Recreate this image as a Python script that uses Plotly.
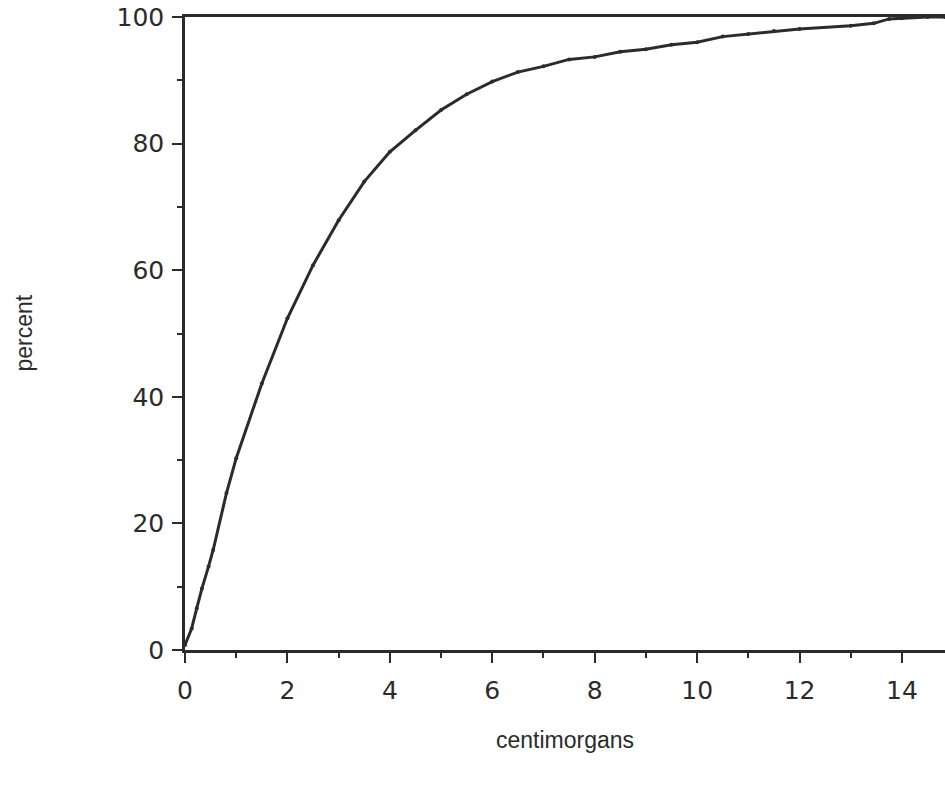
import plotly.graph_objects as go

# cumulative distribution (percent) versus distance (centimorgans)
cm = [0, 0.13, 0.23, 0.33, 0.46, 0.55, 0.81, 1.0, 1.5, 2.0, 2.5, 3.0, 3.5, 4.0,
      4.5, 5.0, 5.5, 6.0, 6.5, 7.0, 7.5, 8.0, 8.5, 9.0, 9.5, 10.0, 10.5, 11.0,
      11.5, 12.0, 13.0, 13.45, 13.75, 14.0, 14.25, 14.5, 14.84]
pct = [0.8, 3.4, 6.6, 9.7, 13.2, 15.8, 24.8, 30.3, 42.1, 52.4, 60.8, 67.9, 74.0, 78.7,
       82.1, 85.3, 87.8, 89.8, 91.3, 92.2, 93.3, 93.7, 94.5, 94.9, 95.6, 96.0, 96.9, 97.3,
       97.8, 98.1, 98.6, 99.0, 99.7, 99.8, 100.0, 100.0, 100.0]

x_ticks = [0, 2, 4, 6, 8, 10, 12, 14]
y_ticks = [0, 20, 40, 60, 80, 100]
x_title = "centimorgans"
y_title = "percent"

ink = "#2b2b2b"

fig = go.Figure()
fig.add_trace(go.Scatter(
    x=cm, y=pct, mode="lines+markers",
    line=dict(color=ink, width=3),
    marker=dict(color=ink, size=4, symbol="circle"),
    showlegend=False, cliponaxis=False,
))

tick_font = dict(family="DejaVu Sans, sans-serif", size=25, color=ink)
title_font = dict(family="Liberation Sans, Arial, Helvetica, sans-serif", size=23, color=ink)

fig.update_layout(
    width=945, height=789,
    margin=dict(l=185, r=0, t=17, b=139),
    paper_bgcolor="white", plot_bgcolor="white",
    font=tick_font,
)
fig.update_xaxes(
    range=[0, 14.84], tickvals=x_ticks, ticktext=[str(v) for v in x_ticks],
    showgrid=False, zeroline=False,
    showline=True, linecolor=ink, linewidth=2.5, mirror=True,
    ticks="outside", ticklen=10, tickwidth=2, tickcolor=ink,
    minor=dict(dtick=1, tick0=0, ticks="outside", ticklen=5, tickwidth=2, tickcolor=ink),
    tickfont=tick_font, ticklabelstandoff=6,
)
fig.update_yaxes(
    range=[0, 100], tickvals=y_ticks, ticktext=[str(v) for v in y_ticks],
    showgrid=False, zeroline=False,
    showline=True, linecolor=ink, linewidth=2.5,
    ticks="outside", ticklen=10, tickwidth=2, tickcolor=ink,
    minor=dict(dtick=10, tick0=0, ticks="outside", ticklen=5, tickwidth=2, tickcolor=ink),
    tickfont=tick_font, ticklabelstandoff=3,
)

fig.add_annotation(
    text=x_title, xref="paper", yref="paper", x=0.5, y=-(740 - 650) / 633,
    xanchor="center", yanchor="middle", showarrow=False, font=title_font,
)
fig.add_annotation(
    text=y_title, xref="paper", yref="paper", x=-(185 - 23) / 760, y=0.5,
    xanchor="center", yanchor="middle", showarrow=False, textangle=-90, font=title_font,
)

fig.write_html("out.html")
